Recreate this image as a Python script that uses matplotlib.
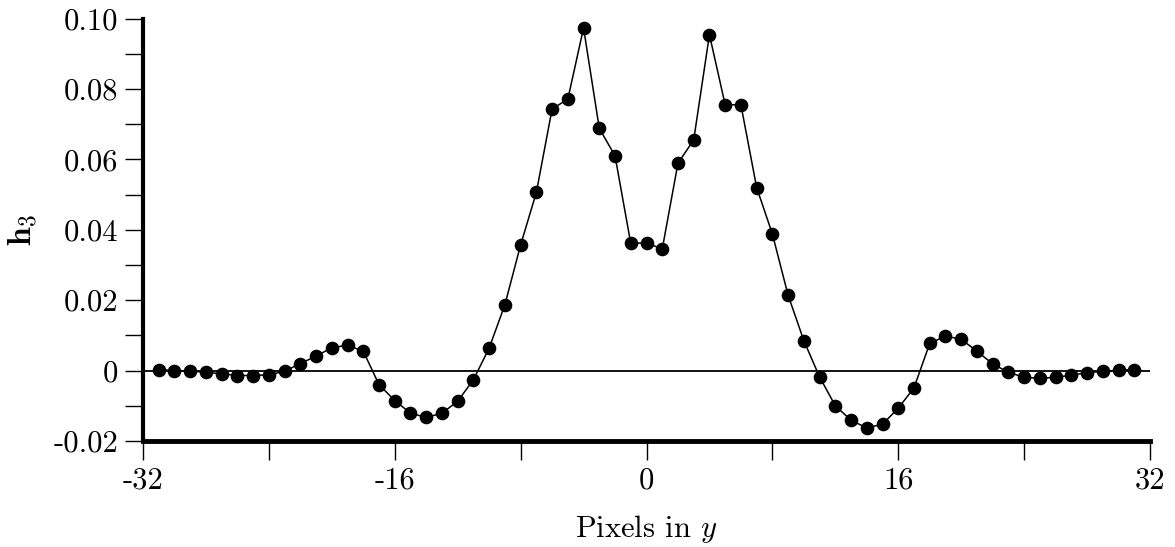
import matplotlib
matplotlib.use("Agg")
import matplotlib.pyplot as plt

plt.rcParams['font.family'] = ['cmr10', 'DejaVu Serif']
plt.rcParams['mathtext.fontset'] = 'cm'
plt.rcParams['axes.unicode_minus'] = False

# ---- data ----
pixels = list(range(-31, 32))
h3 = [0.0003, 0.0000, -0.0001, -0.0005, -0.0009, -0.0014, -0.0014, -0.0012,
      -0.0002, 0.0020, 0.0041, 0.0065, 0.0072, 0.0055, -0.0040, -0.0085,
      -0.0121, -0.0133, -0.0121, -0.0087, -0.0026, 0.0064, 0.0187, 0.0357,
      0.0506, 0.0743, 0.0771, 0.0973, 0.0688, 0.0610, 0.0361, 0.0363,
      0.0345, 0.0589, 0.0655, 0.0954, 0.0755, 0.0755, 0.0520, 0.0388,
      0.0214, 0.0085, -0.0018, -0.0100, -0.0141, -0.0163, -0.0152, -0.0107,
      -0.0049, 0.0077, 0.0098, 0.0089, 0.0055, 0.0019, -0.0005, -0.0019,
      -0.0022, -0.0019, -0.0013, -0.0006, -0.0002, 0.0001, 0.0003]

x_major = [-32, -16, 0, 16, 32]
x_major_labels = ['-32', '-16', '0', '16', '32']
x_minor = [-24, -8, 8, 24]
y_major = [-0.02, 0.0, 0.02, 0.04, 0.06, 0.08, 0.10]
y_major_labels = ['-0.02', '0', '0.02', '0.04', '0.06', '0.08', '0.10']
y_minor = [-0.01, 0.01, 0.03, 0.05, 0.07, 0.09]

fig = plt.figure(figsize=(11.75, 5.47), dpi=100)
ax = fig.add_axes([143/1175, 1 - 441/547, (1150-143)/1175, (441-18.5)/547])

ax.axhline(0, color='black', lw=1.3, zorder=1)
ax.plot(pixels, h3, color='black', lw=1.1, marker='o', markersize=8.8,
        markerfacecolor='black', markeredgecolor='black', zorder=3, clip_on=False)

ax.set_xlim(-32, 32)
ax.set_ylim(-0.02, 0.10)

ax.set_xticks(x_major)
ax.set_xticklabels(x_major_labels)
ax.set_xticks(x_minor, minor=True)
ax.set_yticks(y_major)
ax.set_yticklabels(y_major_labels)
ax.set_yticks(y_minor, minor=True)

for s in ['top', 'right']:
    ax.spines[s].set_visible(False)
ax.spines['left'].set_linewidth(3.0)
ax.spines['bottom'].set_linewidth(3.5)

ax.tick_params(axis='both', which='both', direction='out', color='black', width=1.0)
ax.tick_params(axis='y', which='both', length=13, pad=5, labelsize=22)
ax.tick_params(axis='x', which='both', length=14, pad=5, labelsize=22)

ax.set_xlabel(r'Pixels in $y$', fontsize=22, labelpad=13)
ax.set_ylabel(r'$\mathbf{h}_\mathbf{3}$', fontsize=24, labelpad=10)

fig.savefig('out.png', dpi=100)
